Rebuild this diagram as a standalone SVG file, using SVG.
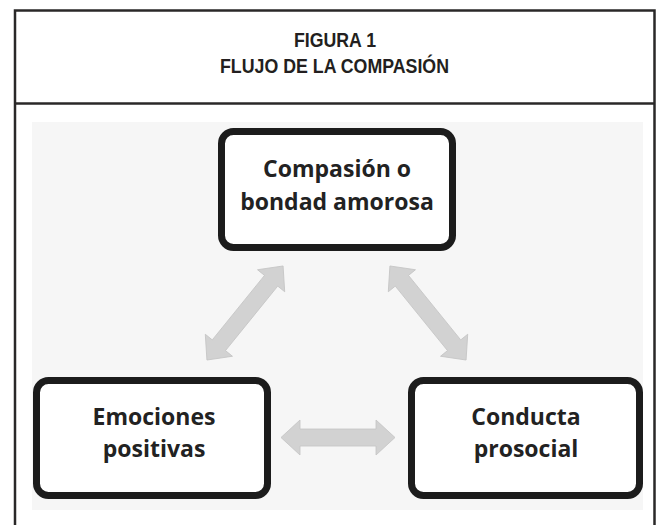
<svg xmlns="http://www.w3.org/2000/svg" width="659" height="525" viewBox="0 0 659 525">
  <style>
    .frame { fill: none; stroke: #2a2828; stroke-width: 2.5; }
    .title { font-family: "Liberation Sans", Arial, sans-serif; font-weight: bold; font-size: 21px; fill: #231f20; text-anchor: middle; }
    .box { fill: #ffffff; stroke: #1c1c1c; stroke-width: 7; }
    .label { font-family: "Open Sans", "Liberation Sans", sans-serif; font-weight: bold; font-size: 23px; fill: #222222; text-anchor: middle; }
    .arrow { fill: #d2d2d2; stroke: #c4c4c4; stroke-width: 0.8; stroke-linejoin: round; }
  </style>
  <defs>
    <polygon id="arrowH" points="-57,0 -38,-17.5 -38,-8.5 38,-8.5 38,-17.5 57,0 38,17.5 38,8.5 -38,8.5 -38,17.5"/>
    <polygon id="arrowD" points="-60.5,0 -41.5,-17.5 -41.5,-8.5 41.5,-8.5 41.5,-17.5 60.5,0 41.5,17.5 41.5,8.5 -41.5,8.5 -41.5,17.5"/>
  </defs>
  <rect x="0" y="0" width="659" height="525" fill="#ffffff"/>
  <g id="frame">
    <path class="frame" d="M15,527 V10.5 H654.5 V527"/>
    <line class="frame" x1="15" y1="103.5" x2="654.5" y2="103.5"/>
    <rect x="32" y="122" width="611" height="388" fill="#f6f6f6"/>
  </g>
  <g id="title">
    <text class="title" x="335" y="46.5" textLength="82" lengthAdjust="spacingAndGlyphs">FIGURA 1</text>
    <text class="title" x="334.5" y="73" textLength="229" lengthAdjust="spacingAndGlyphs">FLUJO DE LA COMPASIÓN</text>
  </g>
  <g id="connectors">
    <use href="#arrowD" class="arrow" transform="translate(245 313) rotate(-51)"/>
    <use href="#arrowD" class="arrow" transform="translate(428 313) rotate(51)"/>
    <use href="#arrowH" class="arrow" transform="translate(338 437.5)"/>
  </g>
  <g id="node-compasion">
    <rect class="box" x="221.5" y="131.5" width="231" height="116" rx="12"/>
    <text class="label" x="337" y="177">Compasión o</text>
    <text class="label" x="337" y="210">bondad amorosa</text>
  </g>
  <g id="node-emociones">
    <rect class="box" x="36.5" y="380.5" width="231" height="115" rx="12"/>
    <text class="label" x="154" y="425">Emociones</text>
    <text class="label" x="154" y="457">positivas</text>
  </g>
  <g id="node-conducta">
    <rect class="box" x="411.5" y="380.5" width="228" height="115" rx="12"/>
    <text class="label" x="526" y="425">Conducta</text>
    <text class="label" x="526" y="457">prosocial</text>
  </g>
</svg>
